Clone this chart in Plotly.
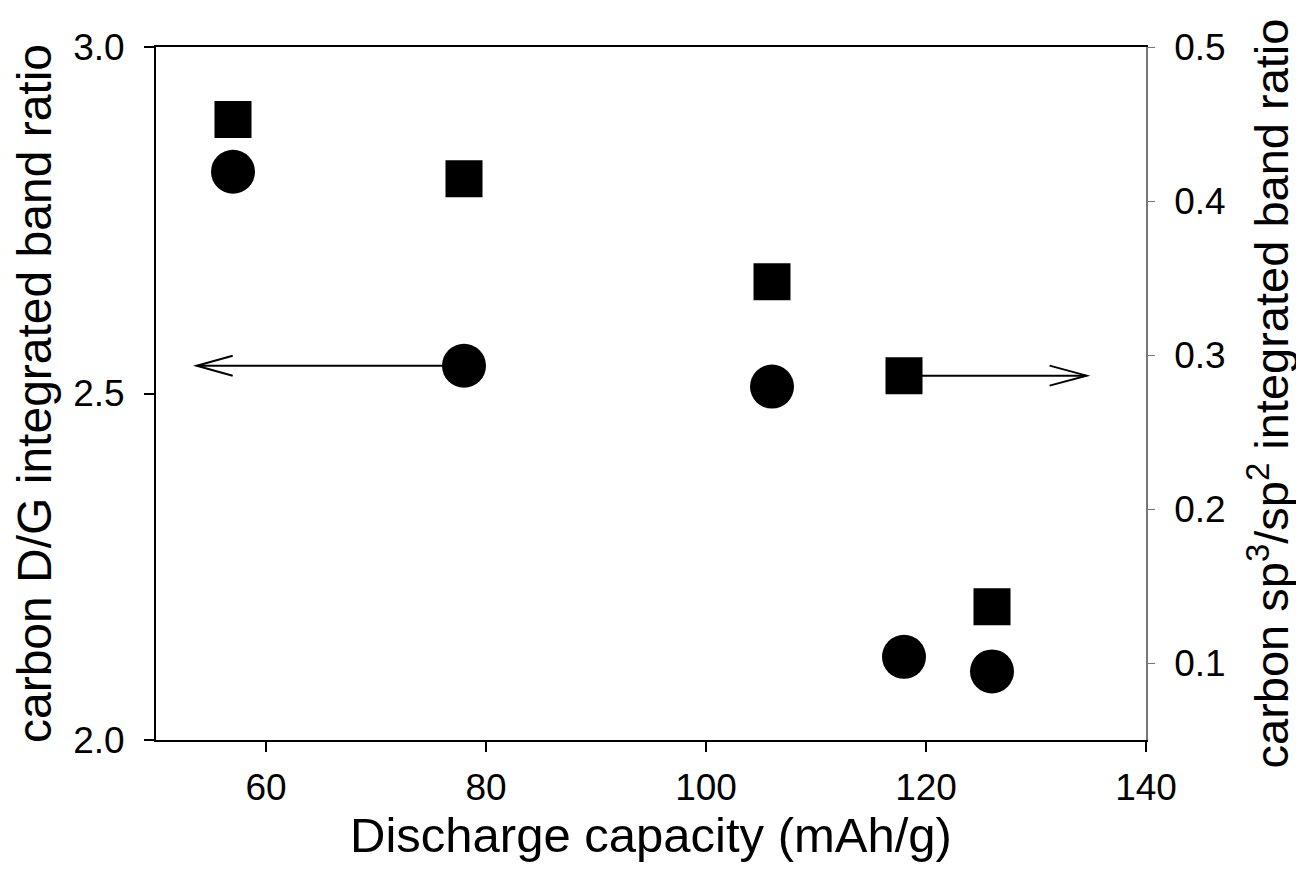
import plotly.graph_objects as go

# Data
capacity = [57, 78, 106, 118, 126]
dg_ratio = [2.820, 2.540, 2.510, 2.120, 2.099]          # circles, left axis
sp3_sp2_ratio = [0.453, 0.4144, 0.3476, 0.2866, 0.1365]  # squares, right axis

x_ticks = [60, 80, 100, 120, 140]
y_ticks = [2.0, 2.5, 3.0]
y2_ticks = [0.1, 0.2, 0.3, 0.4, 0.5]

# arrows: [start x, tip x] and y value
left_arrow_x = [78, 53.7]
left_arrow_y = 2.540
right_arrow_x = [118, 134.6]
right_arrow_y = 0.2866

FONT = "Liberation Sans, Arial, Helvetica, sans-serif"
TICK_SIZE = 37

fig = go.Figure()
fig.add_trace(go.Scatter(
    x=capacity, y=dg_ratio, mode="markers",
    marker=dict(symbol="circle", size=44, color="black", line=dict(width=0)),
    yaxis="y", showlegend=False, cliponaxis=False))
fig.add_trace(go.Scatter(
    x=capacity, y=sp3_sp2_ratio, mode="markers",
    marker=dict(symbol="square", size=37, color="black", line=dict(width=0)),
    yaxis="y2", showlegend=False, cliponaxis=False))

# arrow shafts
fig.add_shape(type="line", xref="x", yref="y",
              x0=left_arrow_x[0], x1=left_arrow_x[1], y0=left_arrow_y, y1=left_arrow_y,
              line=dict(color="black", width=2))
fig.add_shape(type="line", xref="x", yref="y2",
              x0=right_arrow_x[0], x1=right_arrow_x[1], y0=right_arrow_y, y1=right_arrow_y,
              line=dict(color="black", width=2))
# arrow heads (open V), sized in pixels relative to tip
fig.add_shape(type="path", xref="x", yref="y",
              xsizemode="pixel", ysizemode="pixel",
              xanchor=left_arrow_x[1], yanchor=left_arrow_y,
              path="M 36,10 L 0,0 L 36,-10",
              line=dict(color="black", width=2))
fig.add_shape(type="path", xref="x", yref="y2",
              xsizemode="pixel", ysizemode="pixel",
              xanchor=right_arrow_x[1], yanchor=right_arrow_y,
              path="M -37,10 L 0,0 L -37,-10",
              line=dict(color="black", width=2))

fig.update_layout(
    width=1304, height=884,
    margin=dict(l=148, r=166, t=39, b=152),
    paper_bgcolor="white", plot_bgcolor="white",
    font=dict(family=FONT, color="black", size=TICK_SIZE),
    xaxis=dict(
        range=[50, 140], tickvals=x_ticks, ticks="outside", ticklen=10, tickwidth=2,
        tickcolor="black", showline=True, linecolor="black", linewidth=2, mirror=True,
        showgrid=False, zeroline=False, tickfont=dict(size=TICK_SIZE), ticklabelstandoff=4,
        title=dict(text="Discharge capacity (mAh/g)", font=dict(size=49), standoff=2),
    ),
    yaxis=dict(
        range=[2.0, 3.0], tickvals=y_ticks, tickformat=".1f", ticks="outside", ticklen=10,
        tickwidth=2, tickcolor="black", showline=True, linecolor="black", linewidth=2,
        showgrid=False, zeroline=False, tickfont=dict(size=TICK_SIZE), ticklabelstandoff=12,
        title=dict(text="carbon D/G integrated band ratio", font=dict(size=48), standoff=8),
    ),
    yaxis2=dict(
        range=[0.05, 0.5], tickvals=y2_ticks, tickformat=".1f", overlaying="y", side="right",
        ticks="outside", ticklen=7, tickwidth=1, tickcolor="#777777",
        showline=True, linecolor="#777777", linewidth=1.5,
        showgrid=False, zeroline=False, tickfont=dict(size=TICK_SIZE), ticklabelstandoff=12,
        title=dict(text="carbon sp<sup>3</sup>/sp<sup>2</sup> integrated band ratio",
                   font=dict(size=47), standoff=31),
    ),
)

fig.write_html("out.html")
